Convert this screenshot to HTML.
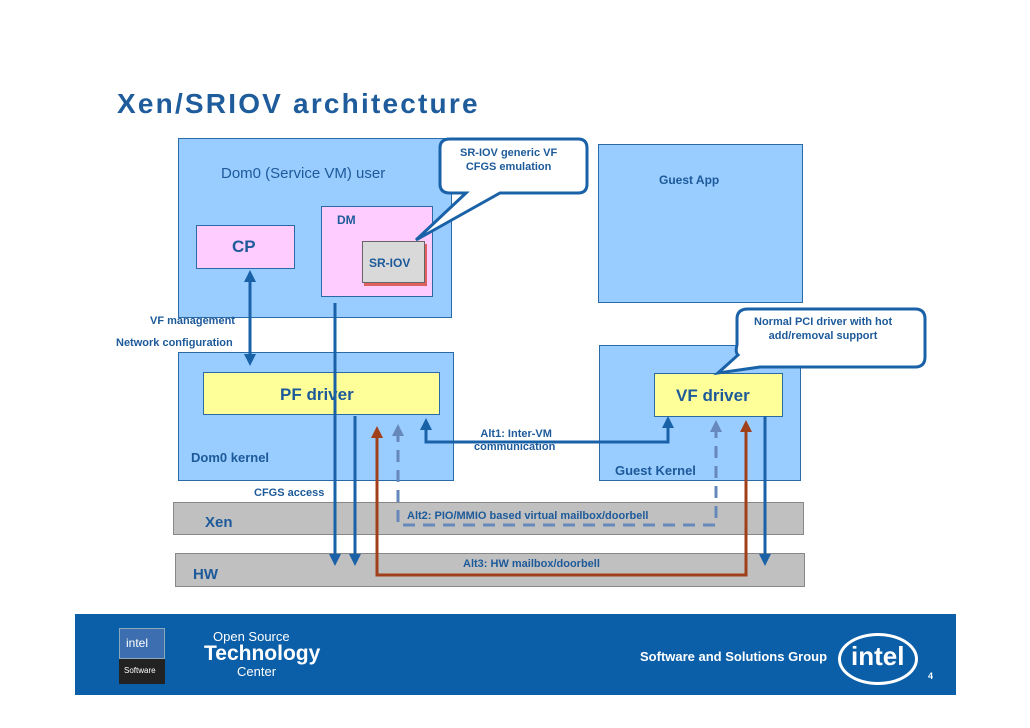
<!DOCTYPE html>
<html><head><meta charset="utf-8"><style>
body{margin:0;width:1030px;height:728px;background:#fff;position:relative;overflow:hidden;font-family:"Liberation Sans",sans-serif}
.b{position:absolute;box-sizing:border-box}
.t{position:absolute;white-space:nowrap;color:#1d5a9a;font-weight:bold}
</style></head><body>
<div class="t" style="left:117px;top:88px;font-size:28px;letter-spacing:2.2px;color:#1f5c9c">Xen/SRIOV architecture</div>

<div class="b" style="left:178px;top:138px;width:274px;height:180px;background:#99ccff;border:1px solid #2a6aa8"></div>
<div class="t" style="left:221px;top:165px;font-size:15px;font-weight:normal">Dom0 (Service VM) user</div>
<div class="b" style="left:196px;top:225px;width:99px;height:44px;background:#ffccff;border:1px solid #2a6aa8"></div>
<div class="t" style="left:232px;top:237px;font-size:17px">CP</div>
<div class="b" style="left:321px;top:206px;width:112px;height:91px;background:#ffccff;border:1px solid #2a6aa8"></div>
<div class="t" style="left:337px;top:213px;font-size:12px">DM</div>
<div class="b" style="left:364px;top:244px;width:63px;height:42px;background:#e06060"></div>
<div class="b" style="left:362px;top:241px;width:63px;height:42px;background:#d9d9d9;border:1px solid #666"></div>
<div class="t" style="left:369px;top:256px;font-size:12px">SR-IOV</div>

<div class="b" style="left:598px;top:144px;width:205px;height:159px;background:#99ccff;border:1px solid #2a6aa8"></div>
<div class="t" style="left:659px;top:173px;font-size:12px">Guest App</div>

<div class="b" style="left:178px;top:352px;width:276px;height:129px;background:#99ccff;border:1px solid #2a6aa8"></div>
<div class="b" style="left:203px;top:372px;width:237px;height:43px;background:#ffff99;border:1px solid #2a6aa8"></div>
<div class="t" style="left:280px;top:385px;font-size:17px">PF driver</div>
<div class="t" style="left:191px;top:450px;font-size:13px">Dom0 kernel</div>

<div class="b" style="left:599px;top:345px;width:202px;height:136px;background:#99ccff;border:1px solid #2a6aa8"></div>
<div class="b" style="left:654px;top:373px;width:129px;height:44px;background:#ffff99;border:1px solid #2a6aa8"></div>
<div class="t" style="left:676px;top:386px;font-size:17px">VF driver</div>
<div class="t" style="left:615px;top:463px;font-size:13px">Guest Kernel</div>

<div class="b" style="left:173px;top:502px;width:631px;height:33px;background:#c0c0c0;border:1px solid #888"></div>
<div class="t" style="left:205px;top:514px;font-size:15px">Xen</div>
<div class="b" style="left:175px;top:553px;width:630px;height:34px;background:#c0c0c0;border:1px solid #888"></div>
<div class="t" style="left:193px;top:566px;font-size:15px">HW</div>

<div class="t" style="left:150px;top:315px;font-size:11px">VF management</div>
<div class="t" style="left:116px;top:337px;font-size:11px">Network configuration</div>
<div class="t" style="left:254px;top:487px;font-size:11px">CFGS access</div>
<div class="t" style="left:474px;top:428px;font-size:11px;text-align:center;line-height:13px">&nbsp;Alt1: Inter-VM<br>communication</div>
<div class="t" style="left:407px;top:510px;font-size:11px">Alt2: PIO/MMIO based virtual mailbox/doorbell</div>
<div class="t" style="left:463px;top:558px;font-size:11px">Alt3: HW mailbox/doorbell</div>

<svg width="1030" height="728" style="position:absolute;left:0;top:0">
<defs>
<marker id="ab" markerWidth="4" markerHeight="4" refX="2" refY="2" orient="auto-start-reverse"><path d="M0,0L4,2L0,4z" fill="#1a62a8"/></marker>
<marker id="ar" markerWidth="4" markerHeight="4" refX="2" refY="2" orient="auto-start-reverse"><path d="M0,0L4,2L0,4z" fill="#a0401a"/></marker>
<marker id="ad" markerWidth="4" markerHeight="4" refX="2" refY="2" orient="auto-start-reverse"><path d="M0,0L4,2L0,4z" fill="#6688bb"/></marker>
</defs>
<g stroke="#1a62a8" stroke-width="3" fill="none">
<line x1="250" y1="276" x2="250" y2="360" marker-start="url(#ab)" marker-end="url(#ab)"/>
<line x1="335" y1="303" x2="335" y2="560" marker-end="url(#ab)"/>
<line x1="355" y1="416" x2="355" y2="560" marker-end="url(#ab)"/>
<line x1="765" y1="416" x2="765" y2="560" marker-end="url(#ab)"/>
<polyline points="426,424 426,442 668,442 668,422" marker-start="url(#ab)" marker-end="url(#ab)"/>
</g>
<polyline points="377,432 377,575 746,575 746,426" stroke="#a0401a" stroke-width="3" fill="none" marker-start="url(#ar)" marker-end="url(#ar)"/>
<polyline points="398,430 398,525 716,525 716,426" stroke="#6688bb" stroke-width="3" fill="none" stroke-dasharray="12,8" marker-start="url(#ad)" marker-end="url(#ad)"/>
<g stroke="#1a62a8" stroke-width="3" fill="#fff">
<path d="M450,139 H578 Q587,139 587,148 V184 Q587,193 578,193 H500 L416,240 L466,193 H450 Q440,193 440,184 V148 Q440,139 450,139Z"/>
<path d="M748,309 H915 Q925,309 925,319 V357 Q925,367 915,367 H760 L718,373 L738,355 Q735,352 737,345 V319 Q737,309 748,309Z"/>
</g>
</svg>
<div class="t" style="left:460px;top:146px;font-size:11px;text-align:center;line-height:14px">SR-IOV generic VF<br>CFGS emulation</div>
<div class="t" style="left:754px;top:315px;font-size:11px;text-align:center;line-height:14px">Normal PCI driver with hot<br>add/removal support</div>

<div class="b" style="left:75px;top:614px;width:881px;height:81px;background:#0b5fa8"></div>
<div class="b" style="left:119px;top:628px;width:46px;height:31px;background:#3d6fb0;border:1px solid #8ab"></div>
<div class="b" style="left:119px;top:659px;width:46px;height:25px;background:#222"></div>
<div class="t" style="left:126px;top:636px;font-size:12px;color:#fff;font-weight:normal">intel</div>
<div class="t" style="left:124px;top:666px;font-size:8px;color:#fff;font-weight:normal">Software</div>
<div class="t" style="left:213px;top:629px;font-size:13px;color:#fff;font-weight:normal">Open Source</div>
<div class="t" style="left:204px;top:642px;font-size:21px;color:#fff">Technology</div>
<div class="t" style="left:237px;top:664px;font-size:13px;color:#fff;font-weight:normal">Center</div>
<div class="t" style="left:640px;top:649px;font-size:13px;color:#fff">Software and Solutions Group</div>
<div class="b" style="left:838px;top:633px;width:80px;height:52px;border:3px solid #fff;border-radius:50%"></div>
<div class="t" style="left:851px;top:641px;font-size:26px;color:#fff">intel</div>
<div class="t" style="left:928px;top:671px;font-size:9px;color:#fff">4</div>
</body></html>
